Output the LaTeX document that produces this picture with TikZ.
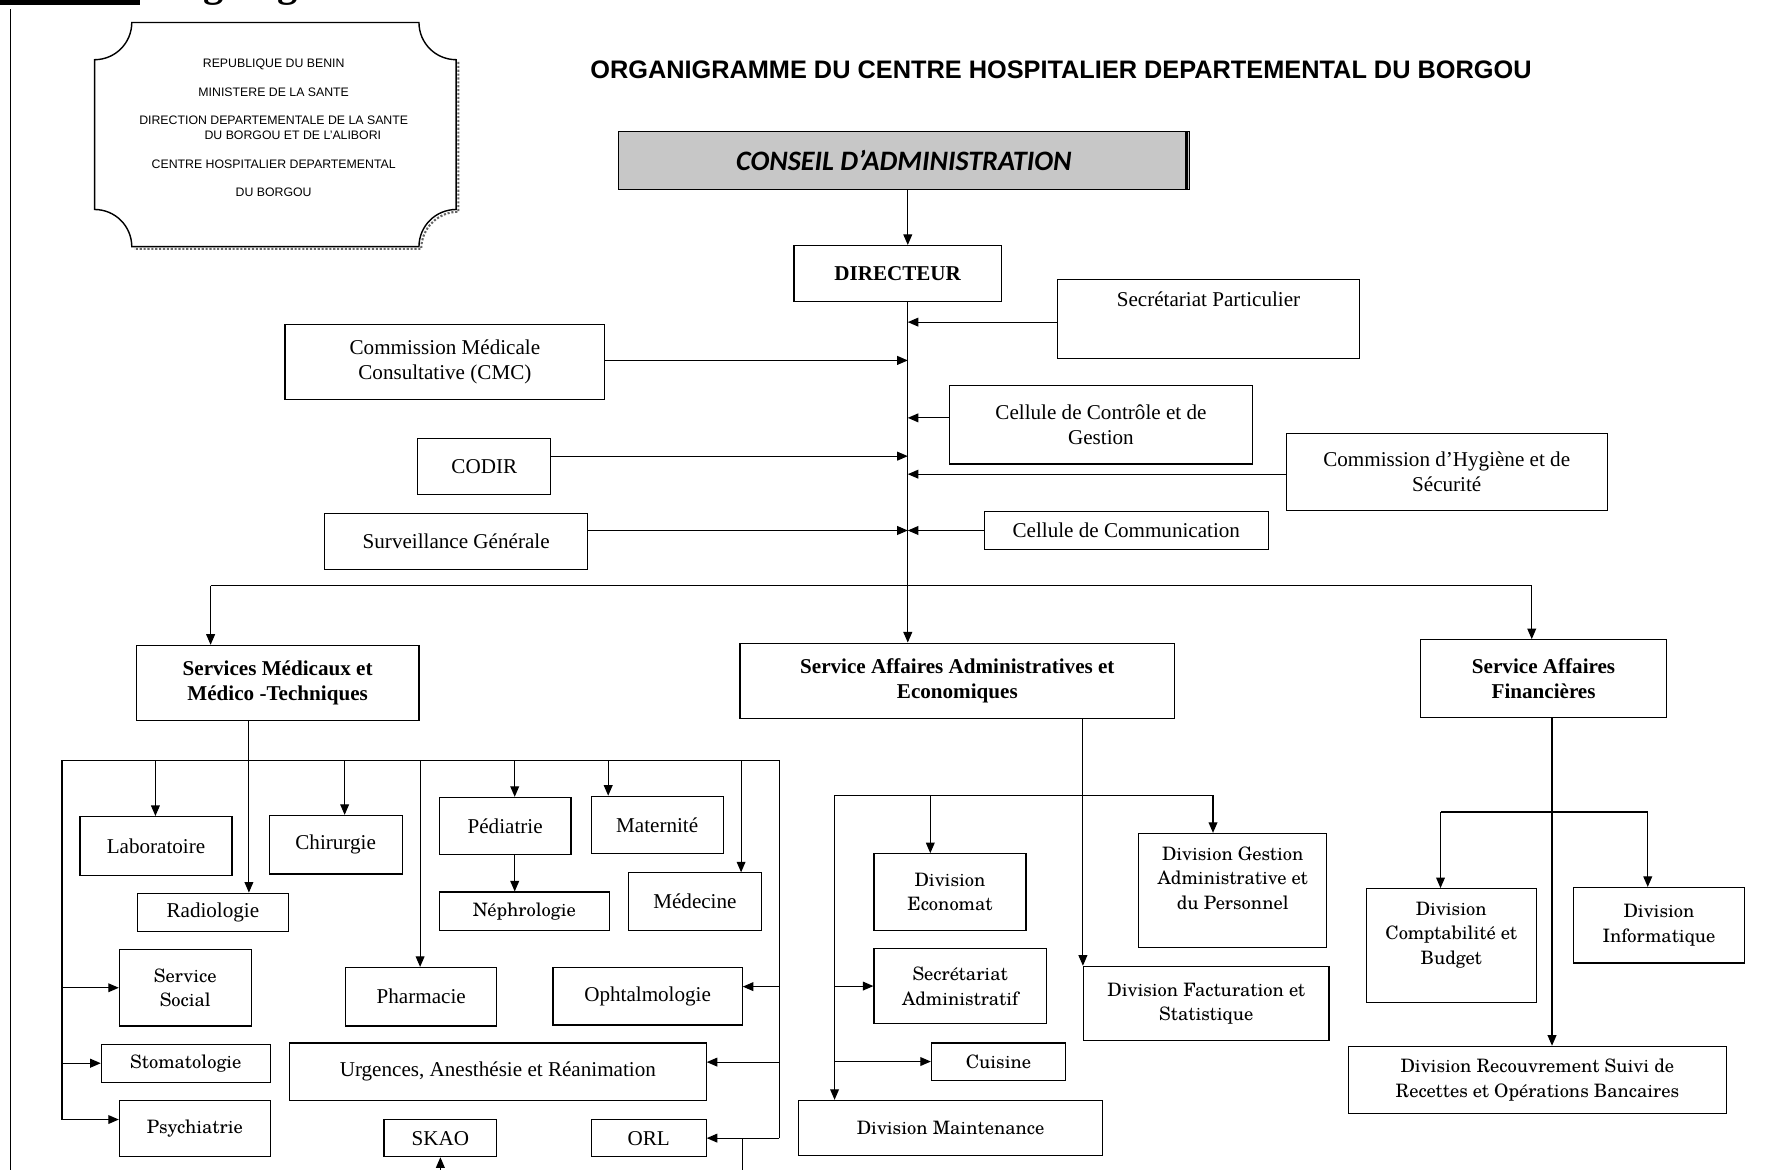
\documentclass[tikz,border=0pt]{standalone}
\usepackage{fontspec}
\setmainfont{Liberation Serif}
\newfontfamily\headfont{Liberation Sans}
\newfontfamily\conseilfont{Carlito}
\newfontfamily\schfont{texgyreschola-regular.otf}
\usepackage{tikz}
\usetikzlibrary{arrows.meta, positioning}

\newlength{\su}\setlength{\su}{0.0225cm}
\newcommand{\tnr}{\fontsize{12}{14}\selectfont}
\newcommand{\tnrb}{\fontsize{12}{14.5}\selectfont\bfseries}
\newcommand{\sch}{\schfont\fontsize{10.5}{14}\selectfont}
\newcommand{\hdr}{\headfont\fontsize{7}{7.7}\selectfont}

\begin{document}
\begin{tikzpicture}[
	x=0.0225cm, y=-0.0225cm,
	>={Triangle[length=6pt,width=5pt]},
	line width=0.65pt,
	box/.style 2 args={draw, rectangle, inner sep=1pt, align=center, font=\tnr,
		minimum width=#1\su, minimum height=#2\su},
	bbox/.style 2 args={box={#1}{#2}, font=\tnrb},
	sbox/.style 2 args={box={#1}{#2}, font=\sch},
	htext/.style={font=\hdr, inner sep=0pt}
]
\useasboundingbox (0,0) rectangle (1568,1038);

% page marks
\fill (0,0) rectangle (124,4.5);
\node[anchor=base west, inner sep=0pt, font=\bfseries\fontsize{23}{25}\selectfont] (pagehead) at (136,-3) {Organigramme};
\draw (9,8) -- (9,1045);

% cartouche
\draw[line width=0.8pt] (117,20) -- (372,20) arc[start angle=180, end angle=90, radius=33]
	-- (405,186) arc[start angle=-90, end angle=-180, radius=33]
	-- (117,219) arc[start angle=0, end angle=-90, radius=33]
	-- (84,53) arc[start angle=90, end angle=0, radius=33] -- cycle;
\draw[densely dotted, line width=1.2pt, black!60] (407,55) -- (407,188)
	arc[start angle=-90, end angle=-180, radius=33] -- (119,221);
\node[htext] (h1) at (243,57) {REPUBLIQUE DU BENIN};
\node[htext] (h2) at (243,82) {MINISTERE DE LA SANTE};
\node[htext] (h3) at (243,107) {DIRECTION DEPARTEMENTALE DE LA SANTE};
\node[htext] (h4) at (260,120) {DU BORGOU ET DE L’ALIBORI};
\node[htext] (h5) at (243,146) {CENTRE HOSPITALIER DEPARTEMENTAL};
\node[htext] (h6) at (243,171) {DU BORGOU};

\node[inner sep=0pt, font=\headfont\bfseries\fontsize{14.4}{16}\selectfont] (title) at (942,62)
	{ORGANIGRAMME DU CENTRE HOSPITALIER DEPARTEMENTAL DU BORGOU};

% direction
\node[box={507}{51}, fill=black!22, font=\conseilfont\bfseries\itshape\fontsize{16}{18}\selectfont] (ca) at (802.5,142.5) {CONSEIL D’ADMINISTRATION};
\draw[line width=1.4pt] ([xshift=-2pt]ca.north east) -- ([xshift=-2pt]ca.south east);
\node[bbox={184}{50}] (dir) at (797,243) {DIRECTEUR};

\node[box={268}{70}] (sp) at (1073,283) {Secrétariat Particulier\\[8pt]\mbox{}};
\node[box={284}{67}] (cmc) at (395,321.5) {Commission Médicale\\Consultative (CMC)};
\node[box={269}{70}] (ccg) at (977.5,377) {Cellule de Contrôle et de\\Gestion};
\node[box={118}{50}] (codir) at (430,414) {CODIR};
\node[box={285}{68}] (chs) at (1284.5,419) {Commission d’Hygiène et de\\Sécurité};
\node[box={234}{50}] (sg) at (405,481) {Surveillance Générale};
\node[box={252}{34}] (cc) at (1000,471) {Cellule de Communication};

% services
\node[bbox={251}{67}] (smmt) at (246.5,606.5) {Services Médicaux et\\Médico -Techniques};
\node[bbox={386}{67}] (saae) at (850,604.5) {Service Affaires Administratives et\\Economiques};
\node[bbox={219}{69}] (saf) at (1370.5,602.5) {Service Affaires\\Financières};

% medical
\node[box={135}{52}] (lab) at (138.5,751) {Laboratoire};
\node[box={118}{52}] (chir) at (298,750) {Chirurgie};
\node[box={117}{51}] (ped) at (448.5,733.5) {Pédiatrie};
\node[box={117}{51}] (mat) at (583.5,732.5) {Maternité};
\node[box={118}{51}] (med) at (617,800.5) {Médecine};
\node[box={134}{34}] (rad) at (189,810) {Radiologie};
\node[sbox={151}{34}] (neph) at (465.5,809) {Néphrologie};
\node[sbox={117}{68}] (soc) at (164.5,877) {Service\\Social};
\node[box={134}{52}] (pharm) at (374,885) {Pharmacie};
\node[box={168}{51}] (oph) at (575,884.5) {Ophtalmologie};
\node[sbox={150}{34}] (stom) at (165,944) {Stomatologie};
\node[box={370}{51}] (urg) at (442,951.5) {Urgences, Anesthésie et Réanimation};
\node[sbox={134}{50}] (psy) at (173,1002) {Psychiatrie};
\node[box={100}{33}] (skao) at (391,1010.5) {SKAO};
\node[box={102}{33}] (orl) at (576,1010.5) {ORL};

% administratif
\node[sbox={135}{68}] (eco) at (843.5,792) {Division\\Economat};
\node[sbox={153}{67}] (sadm) at (852.5,875.5) {Secrétariat\\Administratif};
\node[sbox={119}{33}] (cuis) at (886.5,942.5) {Cuisine};
\node[sbox={270}{49}] (maint) at (844,1001.5) {Division Maintenance};
\node[sbox={167}{101}] (dgap) at (1094.5,790.5) {Division Gestion\\Administrative et\\du Personnel\\\mbox{}};
\node[sbox={218}{66}] (fac) at (1071,891) {Division Facturation et\\Statistique};

% financier
\node[sbox={151}{101}] (comp) at (1288.5,839.5) {Division\\Comptabilité et\\Budget\\\mbox{}};
\node[sbox={152}{67}] (info) at (1473,821.5) {Division\\Informatique};
\node[sbox={336}{60}] (rec) at (1365,959) {Division Recouvrement Suivi de\\Recettes et Opérations Bancaires};

% trunk
\coordinate (trunk) at (806,520);
\coordinate (busL) at (187,520);
\coordinate (busR) at (1360,520);
\draw[->] (ca.south -| trunk) -- (dir.north -| trunk);
\draw[->] (dir.south -| trunk) -- (saae.north -| trunk);
\draw[->] (sp.west |- 0,286) -- (trunk |- 0,286);
\draw[->] (cmc.east |- 0,320) -- (trunk |- 0,320);
\draw[->] (ccg.west |- 0,371) -- (trunk |- 0,371);
\draw[->] (codir.east |- 0,405) -- (trunk |- 0,405);
\draw[->] (chs.west |- 0,421) -- (trunk |- 0,421);
\draw[->] (sg.east |- cc.west) -- (trunk |- cc.west);
\draw[->] (cc.west) -- (cc.west -| trunk);
\draw (busL) -- (busR);
\draw[->] (busL) -- (busL |- smmt.north);
\draw[->] (busR) -- (busR |- saf.north);

% medical links
\coordinate (mtl) at (55,675);
\coordinate (mtr) at (692,675);
\draw[->] (smmt.south -| 221,0) -- (rad.north -| 221,0);
\draw (mtl) -- (mtr);
\foreach \n/\x in {lab/138, chir/306, pharm/373, ped/457, mat/540, med/658}
	\draw[->] (mtl -| \x,0) -- (\n.north -| \x,0);
\draw[->] (ped.south -| 457,0) -- (neph.north -| 457,0);
\draw (mtl) -- (mtl |- 0,994);
\draw[->] (mtl |- soc.west) -- (soc.west);
\draw[->] (mtl |- stom.west) -- (stom.west);
\draw[->] (mtl |- 0,994) -- (psy.west |- 0,994);
\draw (mtr) -- (mtr |- orl.east);
\draw[->] (mtr |- 0,876) -- (oph.east |- 0,876);
\draw[->] (mtr |- 0,943) -- (urg.east |- 0,943);
\draw[->] (mtr |- orl.east) -- (orl.east);
\coordinate (cutR) at (659,1045);
\coordinate (cutS) at (391,1045);
\draw (orl.east -| cutR) -- (cutR);
\draw[->] (cutS) -- (skao.south);

% administratif links
\coordinate (al) at (741,706);
\coordinate (ar) at (1077,706);
\draw[->] (saae.south -| fac.west) -- (fac.north west);
\draw (al) -- (ar);
\draw[->] (ar) -- (ar |- dgap.north);
\draw[->] (al -| 826,0) -- (eco.north -| 826,0);
\draw[->] (al) -- (al |- maint.north);
\draw[->] (al |- sadm.west) -- (sadm.west);
\draw[->] (al |- cuis.west) -- (cuis.west);

% financier links
\coordinate (fl) at (1279,721);
\coordinate (fr) at (1463,721);
\draw[->] (saf.south -| 1378,0) -- (rec.north -| 1378,0);
\draw (fl) -- (fr);
\draw[->] (fl) -- (fl |- comp.north);
\draw[->] (fr) -- (fr |- info.north);
\end{tikzpicture}
\end{document}
